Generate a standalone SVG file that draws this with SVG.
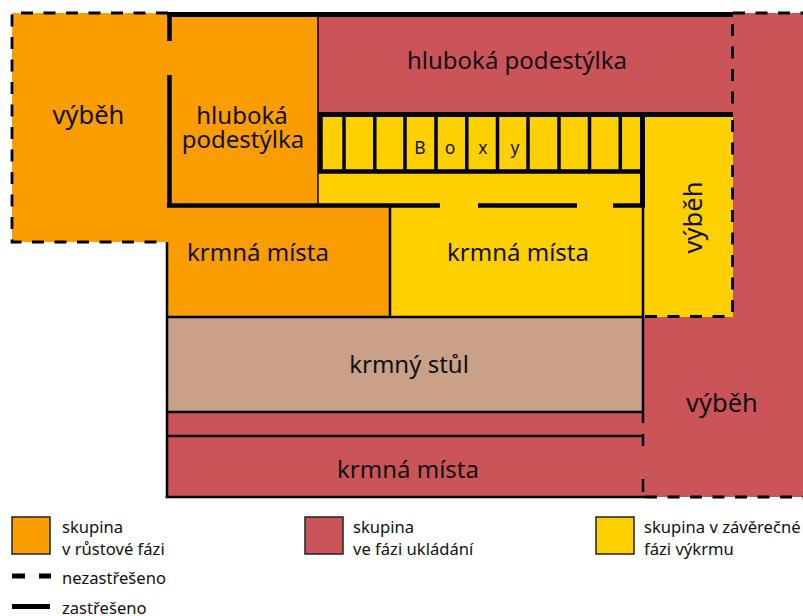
<svg xmlns="http://www.w3.org/2000/svg" width="803" height="616" viewBox="0 0 803 616">
<style>
text{font-family:"Noto Sans","Open Sans",sans-serif;fill:#111}
.l{font-size:24px;text-anchor:middle}
.v{font-size:25.500px;text-anchor:middle}
.s{font-size:16.600px}
.b{font-size:17.500px;text-anchor:middle}
.o{fill:#f99d00}.r{fill:#cb5459}.y{fill:#ffd000}.t{fill:#c9a088}
.k{stroke:#000;fill:none}
.d{stroke:#000;stroke-width:2.800;fill:none;stroke-dasharray:12 10.500}
.key{stroke:#222;stroke-width:1.500}
</style>
<g id="areas">
<rect class="o" x="12" y="13" width="156" height="229"/>
<rect class="o" x="167" y="13" width="151" height="192"/>
<rect class="o" x="167" y="205" width="223" height="112"/>
<rect class="r" x="318" y="13" width="485" height="101"/>
<rect class="r" x="733" y="13" width="70" height="484"/>
<rect class="r" x="643" y="317" width="160" height="180"/>
<rect class="y" x="318" y="113" width="325" height="92"/>
<rect class="y" x="390" y="205" width="253" height="112"/>
<rect class="y" x="643" y="113" width="90" height="204"/>
<rect class="t" x="167" y="317" width="476" height="95"/>
<rect class="r" x="167" y="412" width="476" height="85"/>
</g>
<g id="connectors">
<path class="k" stroke-width="5" d="M167 14.500H733M318 114.500H733"/>
<path class="k" stroke-width="4.500" d="M169.500 13V41M169.500 75V207M167 205.500H440M478 205.500H577M613 205.500H645M318 171.500H643M320.500 113V171"/>
<path class="k" stroke-width="5" d="M642.500 113V207"/>
<path class="k" stroke-width="3.500" d="M344 113V171M374.800 113V171M405 113V171M436 113V171M466.800 113V171M497.500 113V171M528 113V171M559 113V171M589.500 113V171M620.300 113V171"/>
<path class="k" stroke-width="2.500" d="M643 205V423M643 434V446M643 479V492M167 242V498M165.500 497H645M167 317H643M167 412H643M167 436H643M390 205V317"/>
<path class="k" stroke-width="1.500" d="M318 13V205"/>
<path class="d" d="M168 13H12V242H167"/>
<path class="d" stroke-dasharray="10 13" d="M732.500 24V112M732.500 120V317M645 316.500H732"/>
<path class="d" stroke-dasharray="11 11.500" stroke-width="2.500" d="M733 13H803M645 497H803"/>
</g>
<g id="labels">
<text class="v" x="88.500" y="124">výběh</text>
<text class="l" x="242" y="124">hluboká</text>
<text class="l" x="243" y="148">podestýlka</text>
<text class="l" x="517" y="69">hluboká podestýlka</text>
<text class="b" x="420" y="154">B</text>
<text class="b" x="450" y="154">o</text>
<text class="b" x="483" y="154">x</text>
<text class="b" x="515" y="154">y</text>
<text class="l" x="258" y="261">krmná místa</text>
<text class="l" x="518" y="261">krmná místa</text>
<text class="v" transform="translate(702 217.500) rotate(-90)">výběh</text>
<text class="l" x="409" y="373">krmný stůl</text>
<text class="v" x="722" y="412">výběh</text>
<text class="l" x="408" y="478">krmná místa</text>
</g>
<g id="legend">
<rect class="o key" x="12" y="517" width="38" height="37"/>
<rect class="r key" x="305" y="517" width="38" height="37"/>
<rect class="y key" x="596" y="517" width="38" height="37"/>
<text class="s" x="62" y="533">skupina</text>
<text class="s" x="62" y="555">v růstové fázi</text>
<text class="s" x="353" y="533">skupina</text>
<text class="s" x="353" y="555">ve fázi ukládání</text>
<text class="s" x="644" y="533">skupina v závěrečné</text>
<text class="s" x="644" y="555">fázi výkrmu</text>
<path class="k" stroke-width="5" d="M12 576H25M39 576H51M12 606.500H50"/>
<text class="s" x="62" y="584">nezastřešeno</text>
<text class="s" x="62" y="614">zastřešeno</text>
</g>
</svg>
